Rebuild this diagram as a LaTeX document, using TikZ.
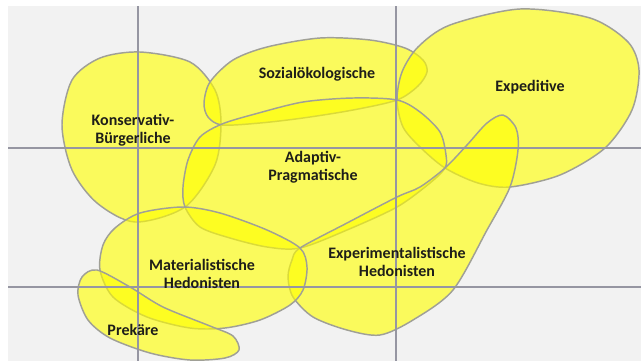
\documentclass[tikz,border=0pt]{standalone}
\usepackage{fontspec}
\setmainfont{Carlito}
\definecolor{backgr}{RGB}{242,242,242}
\definecolor{gridgray}{RGB}{150,150,162}
\definecolor{blobline}{RGB}{160,160,150}
\definecolor{milieu}{RGB}{255,255,0}
\definecolor{labeltext}{RGB}{30,30,25}
\begin{document}
\begin{tikzpicture}[x=0.75pt,y=-0.75pt,
    blob/.style={draw=blobline,line width=1.1pt,fill=milieu,fill opacity=0.62},
    axis/.style={draw=gridgray,line width=1.4pt},
    lbl/.style={font=\bfseries\fontsize{12}{13.5}\selectfont,align=center,text=labeltext,inner sep=0pt}]
  \useasboundingbox (0,0) rectangle (641,361);
  \fill[backgr] (8,6) rectangle (641,361);

  % milieus
  \draw[blob] plot[smooth cycle] coordinates {(140,52) (190,62) (215,90) (221,123) (215,165) (185,207) (135,222) (97,203) (72,170) (62,125) (72,80) (100,58)};
  \draw[blob] plot[smooth cycle] coordinates {(204,103) (210,82) (233,60) (267,47) (320,38) (370,40) (405,48) (423,60) (427,72) (418,86) (397,100) (353,110) (303,118) (260,123) (222,125) (208,117)};
  \draw[blob] plot[smooth cycle] coordinates {(397,100) (402,72) (418,47) (450,25) (520,9) (590,18) (628,42) (639,70) (632,110) (605,148) (560,175) (510,187) (478,183) (445,168) (420,147) (403,127)};
  \draw[blob] plot[smooth cycle] coordinates {(222,124) (255,114) (303,102) (353,98) (397,100) (420,112) (440,132) (446,155) (445,168) (430,183) (397,207) (347,230) (300,248) (267,247) (230,238) (200,227) (185,207) (183,187) (188,160) (200,137)};
  \draw[blob] plot[smooth cycle] coordinates {(503,115) (516,128) (518,150) (510,187) (487,230) (453,290) (413,320) (380,335) (347,330) (313,317) (293,297) (288,277) (292,260) (300,248) (347,223) (397,197) (420,187) (445,168) (467,145) (487,123)};
  \draw[blob] plot[smooth cycle] coordinates {(183,207) (220,213) (267,230) (300,248) (307,267) (303,290) (290,305) (260,320) (225,328) (190,328) (147,317) (113,297) (100,270) (103,245) (115,228) (140,213)};
  \draw[blob] plot[smooth cycle] coordinates {(97,270) (130,287) (163,307) (210,326) (233,336) (239,350) (225,358) (190,360) (150,353) (110,338) (88,320) (78,295) (82,277)};

  % axes
  \draw[axis] (138,6) -- (138,361);
  \draw[axis] (396,6) -- (396,361);
  \draw[axis] (8,148) -- (641,148);
  \draw[axis] (8,287) -- (641,287);

  \node[lbl] (konserv) at (133,130) {Konservativ-\\Bürgerliche};
  \node[lbl] (sozial) at (317,74) {Sozialökologische};
  \node[lbl] (expedit) at (530,87) {Expeditive};
  \node[lbl] (adaptiv) at (313,167) {Adaptiv-\\Pragmatische};
  \node[lbl] (material) at (202,274) {Materialistische\\Hedonisten};
  \node[lbl] (experim) at (397,262) {Experimentalistische\\Hedonisten};
  \node[lbl] (prekaer) at (133,330) {Prekäre};
\end{tikzpicture}
\end{document}
